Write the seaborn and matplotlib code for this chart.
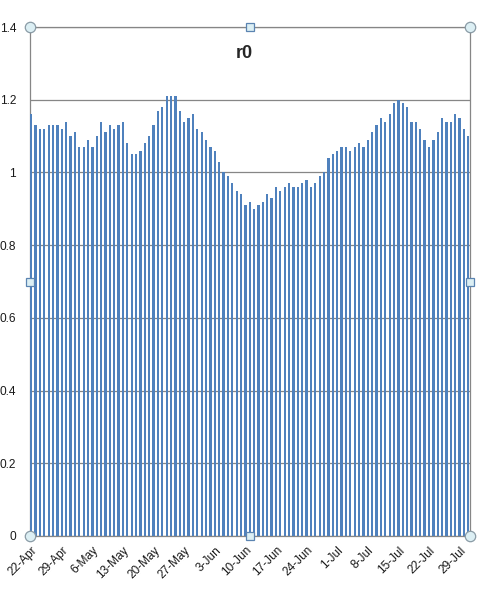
import pandas as pd
import matplotlib
matplotlib.use("Agg")
import matplotlib.pyplot as plt
import seaborn as sns

# daily r0 values, 22-Apr .. 31-Jul
dates = pd.date_range("2020-04-22", "2020-07-31", freq="D")
r0 = [
    1.16, 1.13, 1.12, 1.12, 1.13, 1.13, 1.13, 1.12, 1.14, 1.10,
    1.11, 1.07, 1.07, 1.09, 1.07, 1.10, 1.14, 1.11, 1.13, 1.12,
    1.13, 1.14, 1.08, 1.05, 1.05, 1.06, 1.08, 1.10, 1.13, 1.17,
    1.18, 1.21, 1.21, 1.21, 1.17, 1.14, 1.15, 1.16, 1.12, 1.11,
    1.09, 1.07, 1.06, 1.03, 1.00, 0.99, 0.97, 0.95, 0.94, 0.91,
    0.92, 0.90, 0.91, 0.92, 0.94, 0.93, 0.96, 0.95, 0.96, 0.97,
    0.96, 0.96, 0.97, 0.98, 0.96, 0.97, 0.99, 1.00, 1.04, 1.05,
    1.06, 1.07, 1.07, 1.06, 1.07, 1.08, 1.07, 1.09, 1.11, 1.13,
    1.15, 1.14, 1.16, 1.19, 1.20, 1.19, 1.18, 1.14, 1.14, 1.12,
    1.09, 1.07, 1.09, 1.11, 1.15, 1.14, 1.14, 1.16, 1.15, 1.12,
    1.10,
]
day_labels = [f"{d.day}-{d.strftime('%b')}" for d in dates]
y_ticks = [0, 0.2, 0.4, 0.6, 0.8, 1.0, 1.2, 1.4]
y_tick_labels = ["0", "0.2", "0.4", "0.6", "0.8", "1", "1.2", "1.4"]

df = pd.DataFrame({"day": day_labels, "r0": r0})

sns.set_style("white")
plt.rcParams["font.family"] = ["Liberation Sans", "DejaVu Sans"]

fig = plt.figure(figsize=(4.84, 5.91), dpi=100)
ax = fig.add_axes([30 / 484, 55 / 591, 440 / 484, 509 / 591])

sns.barplot(data=df, x="day", y="r0", color="#4F81BD", width=0.52,
            saturation=1, linewidth=0, ax=ax, zorder=3)
for patch in ax.patches:
    patch.set_antialiased(False)

ax.set_ylim(0, 1.4)
ax.set_xlim(-0.27, len(r0) - 0.62)
ax.set_yticks(y_ticks)
ax.set_yticklabels(y_tick_labels, fontsize=8.6)
tick_pos = list(range(0, len(r0), 7))
ax.set_xticks(tick_pos)
ax.set_xticklabels([day_labels[i] for i in tick_pos], rotation=45,
                   ha="right", rotation_mode="anchor", fontsize=8.6)
ax.set_xlabel("")
ax.set_ylabel("")

ax.grid(axis="y", color="#868686", linewidth=0.9, zorder=0)
for side in ["left", "bottom", "right", "top"]:
    ax.spines[side].set_visible(True)
    ax.spines[side].set_color("#868686")
    ax.spines[side].set_linewidth(0.9)
ax.tick_params(axis="both", which="major", direction="out", length=4,
               width=0.8, color="#868686", pad=2, labelcolor="#1a1a1a")
ax.tick_params(axis="y", pad=6)

ax.text(0.486, 0.947, "r0", transform=ax.transAxes, ha="center",
        va="center", fontsize=13, fontweight="bold")

# selection handles of the chart frame
for hx, hy in [(0, 0), (1, 0), (0, 1), (1, 1)]:
    ax.plot(hx, hy, marker="o", markersize=7.5, markerfacecolor="#DCEFF4",
            markeredgecolor="#8A9BA6", markeredgewidth=0.9,
            transform=ax.transAxes, clip_on=False, zorder=10)
for hx, hy in [(0.5, 0), (0.5, 1), (0, 0.5), (1, 0.5)]:
    ax.plot(hx, hy, marker="s", markersize=5.5, markerfacecolor="#DCEFF4",
            markeredgecolor="#5B84B1", markeredgewidth=0.9,
            transform=ax.transAxes, clip_on=False, zorder=10)

fig.savefig("out.png", dpi=100)
